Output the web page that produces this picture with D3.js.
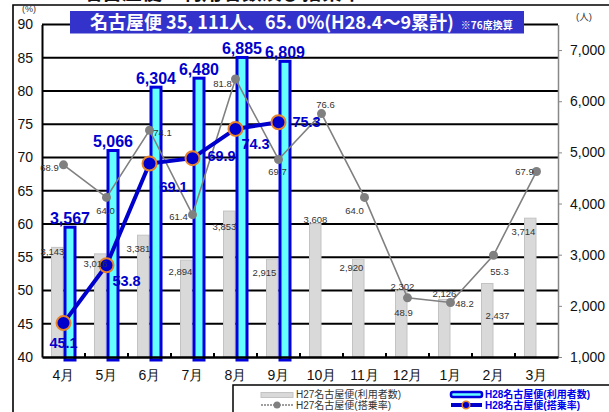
<!DOCTYPE html>
<html>
<head>
<meta charset="utf-8">
<script src="https://cdn.jsdelivr.net/npm/d3@7"></script>
<style>
  body { margin: 0; background: #fff; }
  svg { display: block; font-family: "Liberation Sans", "Noto Sans CJK JP", sans-serif; }
</style>
</head>
<body>
<div id="chart"></div>
<script>
const months = ["4月", "5月", "6月", "7月", "8月", "9月", "10月", "11月", "12月", "1月", "2月", "3月"];
const h27Users = [3143, 3016, 3381, 2894, 3853, 2915, 3608, 2920, 2302, 2126, 2437, 3714];
const h28Users = [3567, 5066, 6304, 6480, 6885, 6809];
const h27Rate = [68.9, 64.0, 74.1, 61.4, 81.8, 69.7, 76.6, 64.0, 48.9, 48.2, 55.3, 67.9];
const h28Rate = [45.1, 53.8, 69.1, 69.9, 74.3, 75.3];
const pctTicks = [40, 45, 50, 55, 60, 65, 70, 75, 80, 85, 90];
const userTicks = [1000, 2000, 3000, 4000, 5000, 6000, 7000];
const legendNames = ["H27名古屋便(利用者数)", "H27名古屋便(搭乗率)", "H28名古屋便(利用者数)", "H28名古屋便(搭乗率)"];
const titleText = "名古屋便 35, 111人、65. 0%(H28.4～9累計)";
const titleNote = "※76席換算";

// label offsets (dx, dy)
const h27UserLabelOff = [[-5,4],[-5,10],[-5,13],[-6,12],[-5,16],[-8,14],[0,-4],[-7,9],[1,-4],[0,-6],[10,32],[-7,14]];
const h27RateLabelOff = [[-14,3],[-1,13],[13,2],[-14,2],[-13,5],[-1,12],[4,-9],[-10,13],[-4,15],[14,1],[6,16],[-12,0]];
const h28RateLabelOff = [[0,20],[20,16],[24,23],[29,-2],[20,15],[28,0]];

const W = 609, H = 412;
const plot = {left: 42, right: 558, top: 24.5, bottom: 357};

const svg = d3.select('#chart').append('svg')
    .attr('width', W).attr('height', H);

svg.append('rect').attr('width', W).attr('height', H).attr('fill', '#fff');

// heading cut off by the crop
svg.append('text').attr('x', 12).attr('y', -0.5)
    .attr('font-size', 20).attr('font-weight', 'bold').attr('fill', '#111')
    .text('４．　　名古屋便・利用者数及び搭乗率');

// outer frame
svg.append('path').attr('d', 'M13,412 L13,5 L609,5')
    .attr('fill', 'none').attr('stroke', '#000').attr('stroke-width', 1.6);

var x = d3.scaleBand().domain(months).range([plot.left, plot.right]);
var yL = d3.scaleLinear().domain([40, 90]).range([plot.bottom, plot.top]);
var yR = d3.scaleLinear().domain([1000, 7500]).range([plot.bottom, plot.top]);
const cx = function(i) { return x(months[i]) + x.bandwidth() / 2; };

// grid lines
svg.append('g').selectAll('line')
    .data(pctTicks.slice(1))
    .enter().append('line')
    .attr('x1', plot.left).attr('x2', plot.right)
    .attr('y1', d => yL(d)).attr('y2', d => yL(d))
    .attr('stroke', '#000').attr('stroke-width', 2);

// H27 bars
svg.append('g').selectAll('rect')
    .data(h27Users)
    .enter().append('rect')
    .attr('x', (d, i) => cx(i) - 12)
    .attr('y', d => yR(d))
    .attr('width', 11.5)
    .attr('height', d => plot.bottom - yR(d))
    .attr('fill', '#d9d9d9').attr('stroke', '#c3c3c3').attr('stroke-width', 1);

// H28 bars
svg.append('g').selectAll('rect')
    .data(h28Users)
    .enter().append('rect')
    .attr('x', (d, i) => cx(i) + 1.5)
    .attr('y', d => yR(d) + 1.5)
    .attr('width', 10)
    .attr('height', d => plot.bottom + 1.5 - yR(d))
    .attr('fill', '#66ffff').attr('stroke', '#0000dd').attr('stroke-width', 3);

// left axis
var gL = svg.append('g').attr('transform', 'translate(' + plot.left + ',0)')
    .call(d3.axisLeft(yL).tickValues(pctTicks).tickSize(0).tickPadding(9));
gL.select('.domain').attr('stroke', '#000').attr('stroke-width', 2);
gL.selectAll('text').attr('font-size', 14).attr('fill', '#111')
    .attr('font-family', '"Liberation Sans", sans-serif');

// right axis
var gR = svg.append('g').attr('transform', 'translate(' + plot.right + ',0)')
    .call(d3.axisRight(yR).tickValues(userTicks).tickSize(4).tickSizeOuter(0).tickPadding(8).tickFormat(d3.format(',')));
gR.select('.domain').attr('stroke', '#888').attr('stroke-width', 1.5);
gR.selectAll('.tick line').attr('stroke', '#888');
gR.selectAll('text').attr('font-size', 14).attr('fill', '#111')
    .attr('font-family', '"Liberation Sans", sans-serif');

// bottom axis
var gB = svg.append('g').attr('transform', 'translate(0,' + plot.bottom + ')')
    .call(d3.axisBottom(x).tickSize(0).tickPadding(13));
gB.select('.domain').attr('stroke', '#000').attr('stroke-width', 2.5);
gB.selectAll('text').attr('font-size', 14).attr('fill', '#111');
gB.selectAll('.bnd').data(months.slice(1)).enter().append('line')
    .attr('class', 'bnd')
    .attr('x1', d => x(d)).attr('x2', d => x(d))
    .attr('y1', 0).attr('y2', -4)
    .attr('stroke', '#000').attr('stroke-width', 2);

svg.append('text').attr('x', 22).attr('y', 12).attr('font-size', 9).attr('fill', '#333').text('(%)');
svg.append('text').attr('x', 576).attr('y', 20).attr('font-size', 9.5).attr('fill', '#333').text('(人)');

// H27 rate line
var line = d3.line().x((d, i) => cx(i)).y(d => yL(d));
svg.append('path').datum(h27Rate)
    .attr('d', line).attr('fill', 'none')
    .attr('stroke', '#808080').attr('stroke-width', 1.6);
svg.append('g').selectAll('circle')
    .data(h27Rate).enter().append('circle')
    .attr('cx', (d, i) => cx(i)).attr('cy', d => yL(d)).attr('r', 4.5)
    .attr('fill', '#808080');

// H28 rate line
svg.append('path').datum(h28Rate)
    .attr('d', line).attr('fill', 'none')
    .attr('stroke', '#0000cc').attr('stroke-width', 4);
svg.append('g').selectAll('circle')
    .data(h28Rate).enter().append('circle')
    .attr('cx', (d, i) => cx(i)).attr('cy', d => yL(d)).attr('r', 7)
    .attr('fill', '#0000cc').attr('stroke', '#e8822a').attr('stroke-width', 2);

// labels
svg.append('g').selectAll('text')
    .data(h27Users).enter().append('text')
    .attr('x', (d, i) => cx(i) - 6 + h27UserLabelOff[i][0])
    .attr('y', (d, i) => yR(d) + h27UserLabelOff[i][1])
    .attr('dy', '0.35em').attr('text-anchor', 'middle')
    .attr('font-size', 9.5).attr('fill', '#333')
    .text(d => d3.format(',')(d));

svg.append('g').selectAll('text')
    .data(h27Rate).enter().append('text')
    .attr('x', (d, i) => cx(i) + h27RateLabelOff[i][0])
    .attr('y', (d, i) => yL(d) + h27RateLabelOff[i][1])
    .attr('dy', '0.35em').attr('text-anchor', 'middle')
    .attr('font-size', 9.5).attr('fill', '#333')
    .text(d => d.toFixed(1));

svg.append('g').selectAll('text')
    .data(h28Users).enter().append('text')
    .attr('x', (d, i) => cx(i) + 6.5)
    .attr('y', d => yR(d) - 2)
    .attr('text-anchor', 'middle')
    .attr('font-size', 16).attr('font-weight', 'bold').attr('fill', '#0000cc')
    .text(d => d3.format(',')(d));

svg.append('g').selectAll('text')
    .data(h28Rate).enter().append('text')
    .attr('x', (d, i) => cx(i) + h28RateLabelOff[i][0])
    .attr('y', (d, i) => yL(d) + h28RateLabelOff[i][1])
    .attr('dy', '0.35em').attr('text-anchor', 'middle')
    .attr('font-size', 14.5).attr('font-weight', 'bold').attr('fill', '#0000cc')
    .text(d => d.toFixed(1));

// title box
svg.append('rect').attr('x', 70).attr('y', 11).attr('width', 454).attr('height', 22.5)
    .attr('fill', '#3333cc');
var tt = svg.append('text').attr('x', 90).attr('y', 29)
    .attr('font-family', '"Noto Sans CJK JP", sans-serif')
    .attr('font-weight', 'bold').attr('fill', '#fff');
tt.append('tspan').attr('font-size', 18).text(titleText);
tt.append('tspan').attr('font-size', 10).attr('dx', 7).text(titleNote);

// legend
var lg = svg.append('g');
lg.append('rect').attr('x', 233).attr('y', 385).attr('width', 420).attr('height', 40)
    .attr('fill', '#fff').attr('stroke', '#000').attr('stroke-width', 1.5);
lg.append('rect').attr('x', 261).attr('y', 392.5).attr('width', 32).attr('height', 5)
    .attr('fill', '#d9d9d9').attr('stroke', '#c3c3c3');
lg.append('line').attr('x1', 261).attr('x2', 293).attr('y1', 405).attr('y2', 405)
    .attr('stroke', '#808080').attr('stroke-width', 1.5).attr('stroke-dasharray', '2,1');
lg.append('circle').attr('cx', 277).attr('cy', 405).attr('r', 3.5).attr('fill', '#808080');
lg.append('rect').attr('x', 451).attr('y', 392).attr('width', 31).attr('height', 5).attr('rx', 2)
    .attr('fill', '#66ffff').attr('stroke', '#0000dd').attr('stroke-width', 2.5);
lg.append('line').attr('x1', 451).attr('x2', 482).attr('y1', 405).attr('y2', 405)
    .attr('stroke', '#0000cc').attr('stroke-width', 4);
lg.append('circle').attr('cx', 466).attr('cy', 405).attr('r', 3.8)
    .attr('fill', '#0000cc').attr('stroke', '#e8822a').attr('stroke-width', 1.5);
var legPos = [[296, 394.5], [296, 405.5], [485, 394.5], [485, 405.5]];
legendNames.forEach(function(n, i) {
    lg.append('text').attr('x', legPos[i][0]).attr('y', legPos[i][1])
        .attr('dy', '0.35em').attr('font-size', 10)
        .attr('font-weight', i >= 2 ? 'bold' : 'normal')
        .attr('fill', i >= 2 ? '#0000ee' : '#333')
        .text(n);
});
</script>
</body>
</html>
